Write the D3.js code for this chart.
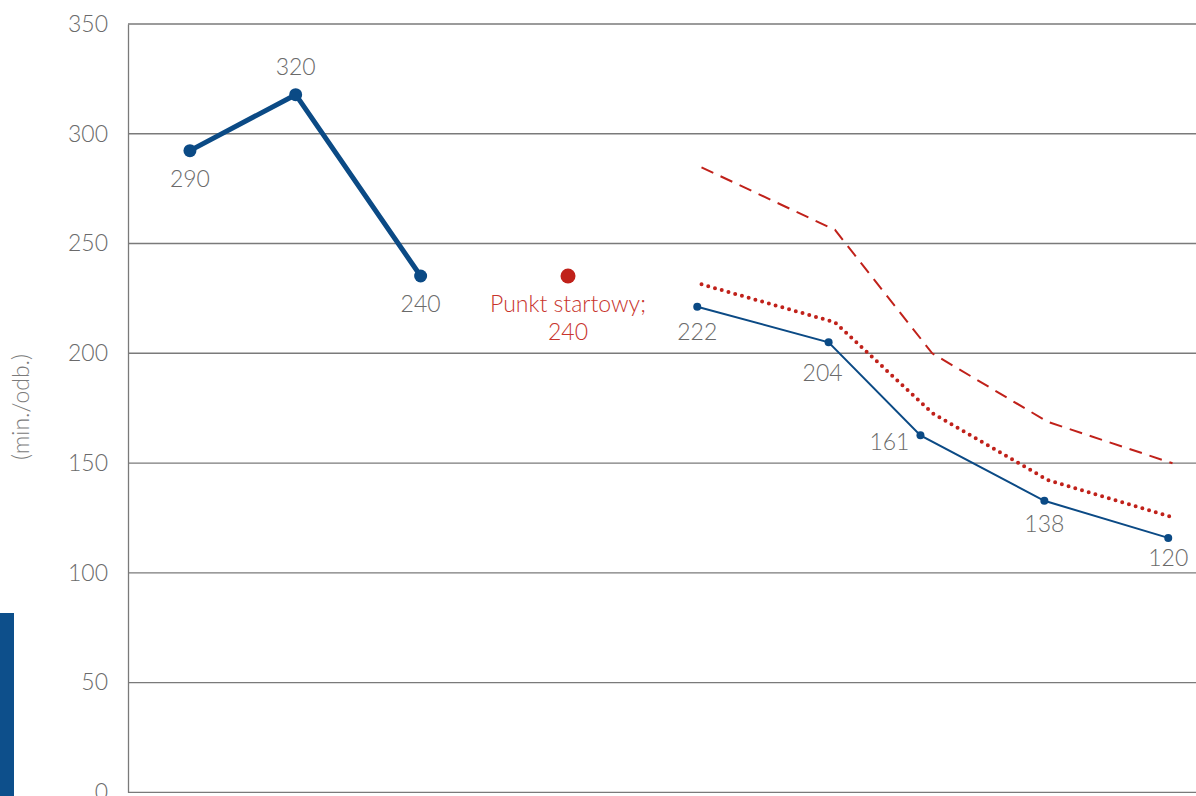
<!DOCTYPE html>
<html>
<head>
<meta charset="utf-8">
<script src="https://cdn.jsdelivr.net/npm/d3@7"></script>
<style>
  html, body { margin: 0; padding: 0; background: #fff; }
  svg { display: block; font-family: Lato, "Open Sans", sans-serif; }
</style>
</head>
<body>
<svg id="chart" width="1196" height="796"></svg>
<script>
// ---- data ----
const yTicks = [0, 50, 100, 150, 200, 250, 300, 350];
const yTitle = "(min./odb.)";

// historical series (thick)
const histX = [0.58, 1.57, 2.74];
const histY = [292.3, 317.8, 235.2];
const histLabels = ["290", "320", "240"];

// starting point
const startX = [4.12];
const startY = [235.2];
const startLabel = ["Punkt startowy;", "240"];

// forecast series (thin)
const fcX = [5.33, 6.56, 7.42, 8.58, 9.74];
const fcY = [221.2, 205.0, 162.6, 132.8, 115.9];
const fcLabels = ["222", "204", "161", "138", "120"];

// dotted and dashed reference series
const refX = [5.37, 6.62, 7.53, 8.61, 9.78];
const dottedY = [231.4, 214.1, 172.8, 142.3, 125.3];
const dashedY = [284.7, 256.2, 200.0, 168.8, 149.9];

// ---- layout ----
const svg = d3.select("#chart");
const mLeft = 128, mRight = 1196, mTop = 24, mBottom = 792.3;
const x = d3.scaleLinear().domain([0, 10]).range([mLeft, mRight]);
const y = d3.scaleLinear().domain([0, 350]).range([mBottom, mTop]);

const BLUE = "#0b4a85", RED = "#c0211a", GRID = "#7a7a7a", TXT = "#6a6a6a";
const FS = 23;

// decorative side bar
svg.append("rect").attr("x", 0).attr("y", 613).attr("width", 14).attr("height", 183).attr("fill", "#0d4f8b");

// gridlines
svg.append("g").selectAll("line").data(yTicks).join("line")
  .attr("x1", mLeft).attr("x2", mRight)
  .attr("y1", d => y(d)).attr("y2", d => y(d))
  .attr("stroke", GRID).attr("stroke-width", 1.3);

// y axis
const yAxis = d3.axisLeft(y).tickValues(yTicks).tickSize(0).tickPadding(20);
const gy = svg.append("g").attr("transform", `translate(${mLeft},0)`).call(yAxis);
gy.select(".domain").attr("stroke", GRID).attr("stroke-width", 1.3);
gy.selectAll("text").attr("font-size", FS).attr("font-weight", 300).attr("fill", TXT)
  .attr("font-family", "Lato, sans-serif");

// y title
svg.append("text").attr("transform", "translate(20,407) rotate(-90)")
  .attr("text-anchor", "middle").attr("dominant-baseline", "central")
  .attr("font-size", FS).attr("font-weight", 300).attr("fill", "#7a7a7a").text(yTitle);

const line = d3.line().x(d => x(d[0])).y(d => y(d[1]));

// dashed red
svg.append("path").datum(d3.zip(refX, dashedY)).attr("d", line)
  .attr("fill", "none").attr("stroke", RED).attr("stroke-width", 2)
  .attr("stroke-dasharray", "13 8");

// dotted red
svg.append("path").datum(d3.zip(refX, dottedY)).attr("d", line)
  .attr("fill", "none").attr("stroke", RED).attr("stroke-width", 4)
  .attr("stroke-linecap", "round").attr("stroke-dasharray", "0 7");

// historical thick line
const hist = d3.zip(histX, histY);
svg.append("path").datum(hist).attr("d", line)
  .attr("fill", "none").attr("stroke", BLUE).attr("stroke-width", 5)
  .attr("stroke-linejoin", "round");
svg.append("g").selectAll("circle").data(hist).join("circle")
  .attr("cx", d => x(d[0])).attr("cy", d => y(d[1])).attr("r", 6.5).attr("fill", BLUE);

// forecast thin line
const fc = d3.zip(fcX, fcY);
svg.append("path").datum(fc).attr("d", line)
  .attr("fill", "none").attr("stroke", BLUE).attr("stroke-width", 2);
svg.append("g").selectAll("circle").data(fc).join("circle")
  .attr("cx", d => x(d[0])).attr("cy", d => y(d[1])).attr("r", 4).attr("fill", BLUE);

// start point
svg.append("circle").attr("cx", x(startX[0])).attr("cy", y(startY[0])).attr("r", 7.5).attr("fill", RED);

// labels
const histOff = [[0, 27], [0, -29], [0, 27]];
svg.append("g").selectAll("text").data(hist).join("text")
  .attr("x", (d, i) => x(d[0]) + histOff[i][0]).attr("y", (d, i) => y(d[1]) + histOff[i][1])
  .attr("text-anchor", "middle").attr("dominant-baseline", "central")
  .attr("font-size", FS).attr("font-weight", 300).attr("fill", TXT)
  .text((d, i) => histLabels[i]);

const fcOff = [[0, 24], [-6, 30], [-31, 6], [0, 22], [0, 19]];
svg.append("g").selectAll("text").data(fc).join("text")
  .attr("x", (d, i) => x(d[0]) + fcOff[i][0]).attr("y", (d, i) => y(d[1]) + fcOff[i][1])
  .attr("text-anchor", "middle").attr("dominant-baseline", "central")
  .attr("font-size", FS).attr("font-weight", 300).attr("fill", TXT)
  .text((d, i) => fcLabels[i]);

svg.append("g").selectAll("text").data(startLabel).join("text")
  .attr("x", x(startX[0])).attr("y", (d, i) => y(startY[0]) + 27 + i * 28)
  .attr("text-anchor", "middle").attr("dominant-baseline", "central")
  .attr("font-size", FS).attr("font-weight", 300).attr("fill", "#c8342c")
  .text(d => d);
</script>
</body>
</html>
